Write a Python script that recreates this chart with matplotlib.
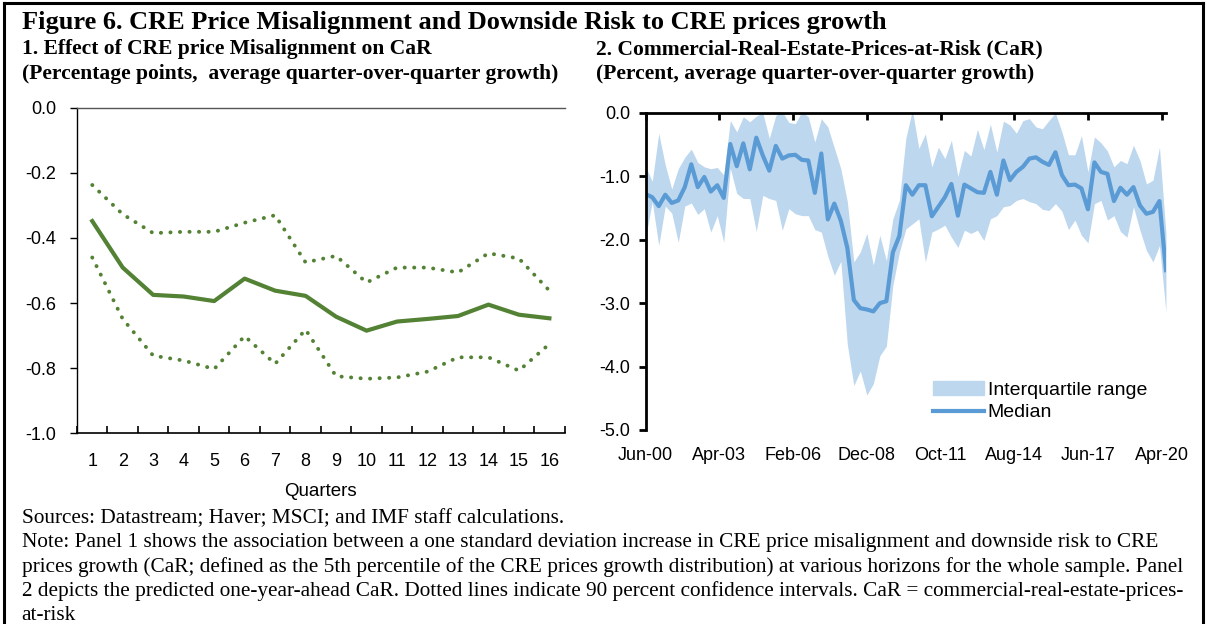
import numpy as np
import matplotlib
matplotlib.use("Agg")
import matplotlib.pyplot as plt
from matplotlib.patches import Patch
from matplotlib.lines import Line2D

plt.rcParams["axes.unicode_minus"] = False
plt.rcParams["font.family"] = ["Liberation Sans", "DejaVu Sans"]

# ---- panel 1: effect of misalignment on CaR, by horizon ---------------------
quarters = list(range(1, 17))
effect_mid = [-0.348, -0.491, -0.575, -0.580, -0.594, -0.525, -0.562, -0.578,
              -0.642, -0.685, -0.657, -0.649, -0.640, -0.605, -0.636, -0.647]
effect_hi = [-0.237, -0.327, -0.385, -0.381, -0.381, -0.353, -0.330, -0.475,
             -0.455, -0.537, -0.491, -0.491, -0.506, -0.447, -0.463, -0.562]
effect_lo = [-0.460, -0.649, -0.762, -0.777, -0.803, -0.702, -0.787, -0.682,
             -0.825, -0.833, -0.829, -0.811, -0.767, -0.767, -0.808, -0.726]
effect_ticks = [-1.0, -0.8, -0.6, -0.4, -0.2, 0.0]

# ---- panel 2: CaR, quarterly Jun-00 .. Jun-20 --------------------------------
car_median = [-1.28, -1.33, -1.47, -1.29, -1.42, -1.38, -1.17, -0.81, -1.17, -1.01,
              -1.24, -1.14, -1.34, -0.49, -0.84, -0.48, -0.89, -0.39, -0.67, -0.91,
              -0.52, -0.72, -0.67, -0.66, -0.74, -0.75, -1.26, -0.64, -1.68, -1.43,
              -1.70, -2.13, -2.95, -3.08, -3.10, -3.13, -3.00, -2.97, -2.20, -1.94,
              -1.14, -1.29, -1.14, -1.14, -1.63, -1.48, -1.33, -1.12, -1.62, -1.13,
              -1.19, -1.25, -1.26, -0.93, -1.29, -0.75, -1.06, -0.93, -0.85, -0.72,
              -0.70, -0.77, -0.82, -0.62, -0.98, -1.14, -1.13, -1.19, -1.52, -0.78,
              -0.93, -0.96, -1.39, -1.18, -1.29, -1.17, -1.46, -1.59, -1.56, -1.39,
              -2.48]
car_upper = [-0.85, -1.08, -0.32, -0.82, -1.20, -0.88, -0.70, -0.57, -0.78, -0.85,
             -0.88, -0.86, -0.98, -0.12, -0.30, -0.06, -0.14, -0.05, 0.00, -0.40,
             -0.04, 0.02, -0.15, -0.17, 0.02, -0.06, -0.46, -0.09, -0.22, -0.55,
             -0.88, -1.40, -2.35, -2.19, -1.90, -2.40, -1.93, -2.33, -1.67, -1.38,
             -0.40, 0.05, -0.56, -0.33, -0.85, -0.54, -0.72, -0.43, -1.00, -0.59,
             -0.68, -0.26, -0.58, -0.18, -0.62, -0.13, -0.19, -0.32, -0.12, -0.09,
             -0.22, -0.25, -0.12, 0.00, -0.30, -0.66, -0.66, -0.36, -0.93, -0.38,
             -0.47, -0.60, -0.85, -0.75, -0.80, -0.51, -0.75, -1.12, -1.06, -0.54,
             -1.90]
car_lower = [-1.95, -1.40, -2.09, -1.47, -1.58, -2.04, -1.47, -1.42, -1.60, -1.51,
             -1.88, -1.62, -2.04, -0.87, -1.27, -1.35, -1.35, -1.87, -1.30, -1.35,
             -1.38, -1.85, -1.51, -1.59, -1.62, -1.62, -1.84, -1.88, -2.26, -2.56,
             -2.34, -3.65, -4.30, -4.07, -4.45, -4.27, -3.83, -3.68, -2.72, -2.20,
             -1.83, -1.75, -1.67, -2.35, -1.88, -1.83, -1.77, -1.96, -2.12, -1.85,
             -1.90, -1.85, -2.01, -1.67, -1.62, -1.48, -1.46, -1.38, -1.35, -1.40,
             -1.43, -1.52, -1.54, -1.43, -1.55, -1.84, -1.69, -1.93, -2.05, -1.43,
             -1.38, -1.69, -1.62, -1.87, -1.96, -1.48, -1.85, -2.17, -2.35, -2.09,
             -3.14]
car_ticks = [-5.0, -4.0, -3.0, -2.0, -1.0, 0.0]
date_labels = ["Jun-00", "Apr-03", "Feb-06", "Dec-08", "Oct-11", "Aug-14", "Jun-17", "Apr-20"]
label_months = [0, 34, 68, 102, 136, 170, 204, 238]   # months after Jun-00

GREEN = "#548235"
BLUE = "#5B9BD5"
LIGHT = "#BDD7EE"
SERIF = ["Liberation Serif", "DejaVu Serif"]

fig = plt.figure(figsize=(12.07, 6.24), dpi=100)

# frame round the whole figure (open at the bottom)
for xs, ys in [([0.003, 0.003], [0.0, 0.995]), ([0.003, 0.997], [0.995, 0.995]),
               ([0.997, 0.997], [0.0, 0.995])]:
    fig.add_artist(Line2D(xs, ys, color="black", lw=2.2, transform=fig.transFigure))

fig.text(0.018, 0.964, "Figure 6. CRE Price Misalignment and Downside Risk to CRE prices growth",
         family=SERIF, weight="bold", fontsize=19, va="center")
fig.text(0.018, 0.921, "1. Effect of CRE price Misalignment on CaR",
         family=SERIF, weight="bold", fontsize=15.5, va="center")
fig.text(0.018, 0.881, "(Percentage points,  average quarter-over-quarter growth)",
         family=SERIF, weight="bold", fontsize=15.5, va="center")
fig.text(0.494, 0.921, "2. Commercial-Real-Estate-Prices-at-Risk (CaR)",
         family=SERIF, weight="bold", fontsize=15.5, va="center")
fig.text(0.494, 0.881, "(Percent, average quarter-over-quarter growth)",
         family=SERIF, weight="bold", fontsize=15.5, va="center")

# ---------- panel 1 ----------
ax1 = fig.add_axes([0.0638, 0.306, 0.404, 0.521])
dots = (0, (0.05, 2.4))
ax1.plot(quarters, effect_mid, color=GREEN, lw=3)
ax1.plot(quarters, effect_hi, color=GREEN, lw=2.8, ls=dots, dash_capstyle="round")
ax1.plot(quarters, effect_lo, color=GREEN, lw=2.8, ls=dots, dash_capstyle="round")
ax1.set_xlim(0.5, 16.5)
ax1.set_ylim(-1.0, 0.0)
ax1.set_yticks(effect_ticks)
ax1.set_yticklabels([f"{t:.1f}" for t in effect_ticks])
ax1.set_xticks(quarters)
ax1.set_xticks(np.arange(0.5, 16.6, 1), minor=True)
ax1.tick_params(axis="x", which="major", length=0, pad=14, labelsize=13)
ax1.tick_params(axis="x", which="minor", direction="in", length=5, width=1.2)
ax1.tick_params(axis="y", direction="out", length=5, width=1, pad=10, labelsize=13)
ax1.spines["right"].set_visible(False)
ax1.spines["top"].set_color("#555555")
ax1.spines["top"].set_linewidth(1)
ax1.spines["left"].set_linewidth(1)
ax1.spines["bottom"].set_linewidth(1.2)
ax1.set_xlabel("Quarters", fontsize=13.5, labelpad=10)

# ---------- panel 2 ----------
months = np.arange(len(car_median)) * 3
ax2 = fig.add_axes([0.535, 0.311, 0.431, 0.508])
ax2.fill_between(months, car_lower, car_upper, color=LIGHT, lw=0)
ax2.plot(months, car_median, color=BLUE, lw=3)
ax2.set_xlim(0, 240)
ax2.set_ylim(-5.0, 0.0)
ax2.set_yticks(car_ticks)
ax2.set_yticklabels([f"{t:.1f}" for t in car_ticks])
ax2.set_xticks(label_months)
ax2.set_xticklabels(date_labels)
ax2.tick_params(axis="x", bottom=False, top=True, labelbottom=True, labeltop=False,
                direction="in", length=5, width=2, pad=12, labelsize=13)
ax2.tick_params(axis="y", direction="out", length=5, width=2, pad=6, labelsize=13)
ax2.spines["right"].set_visible(False)
ax2.spines["bottom"].set_visible(False)
ax2.spines["top"].set_linewidth(2)
ax2.spines["left"].set_linewidth(2)

handles = [Patch(color=LIGHT, label="Interquartile range"),
           Line2D([], [], color=BLUE, lw=3, label="Median")]
ax2.legend(handles=handles, loc="lower left", bbox_to_anchor=(0.53, -0.01), frameon=False,
           fontsize=14, handlelength=2.6, handletextpad=0.2, labelspacing=0.25,
           borderaxespad=0.2)

# ---------- sources and note ----------
notes = [
    "Sources: Datastream; Haver; MSCI; and IMF staff calculations.",
    "Note: Panel 1 shows the association between a one standard deviation increase in CRE price misalignment and downside risk to CRE",
    "prices growth (CaR; defined as the 5th percentile of the CRE prices growth distribution) at various horizons for the whole sample. Panel",
    "2 depicts the predicted one-year-ahead CaR. Dotted lines indicate 90 percent confidence intervals. CaR = commercial-real-estate-prices-",
    "at-risk",
]
for k, line in enumerate(notes):
    fig.text(0.018, 1 - (519 + 24 * k) / 624, line, family=SERIF, fontsize=15.3, va="center")

fig.savefig("out.png", dpi=100)
